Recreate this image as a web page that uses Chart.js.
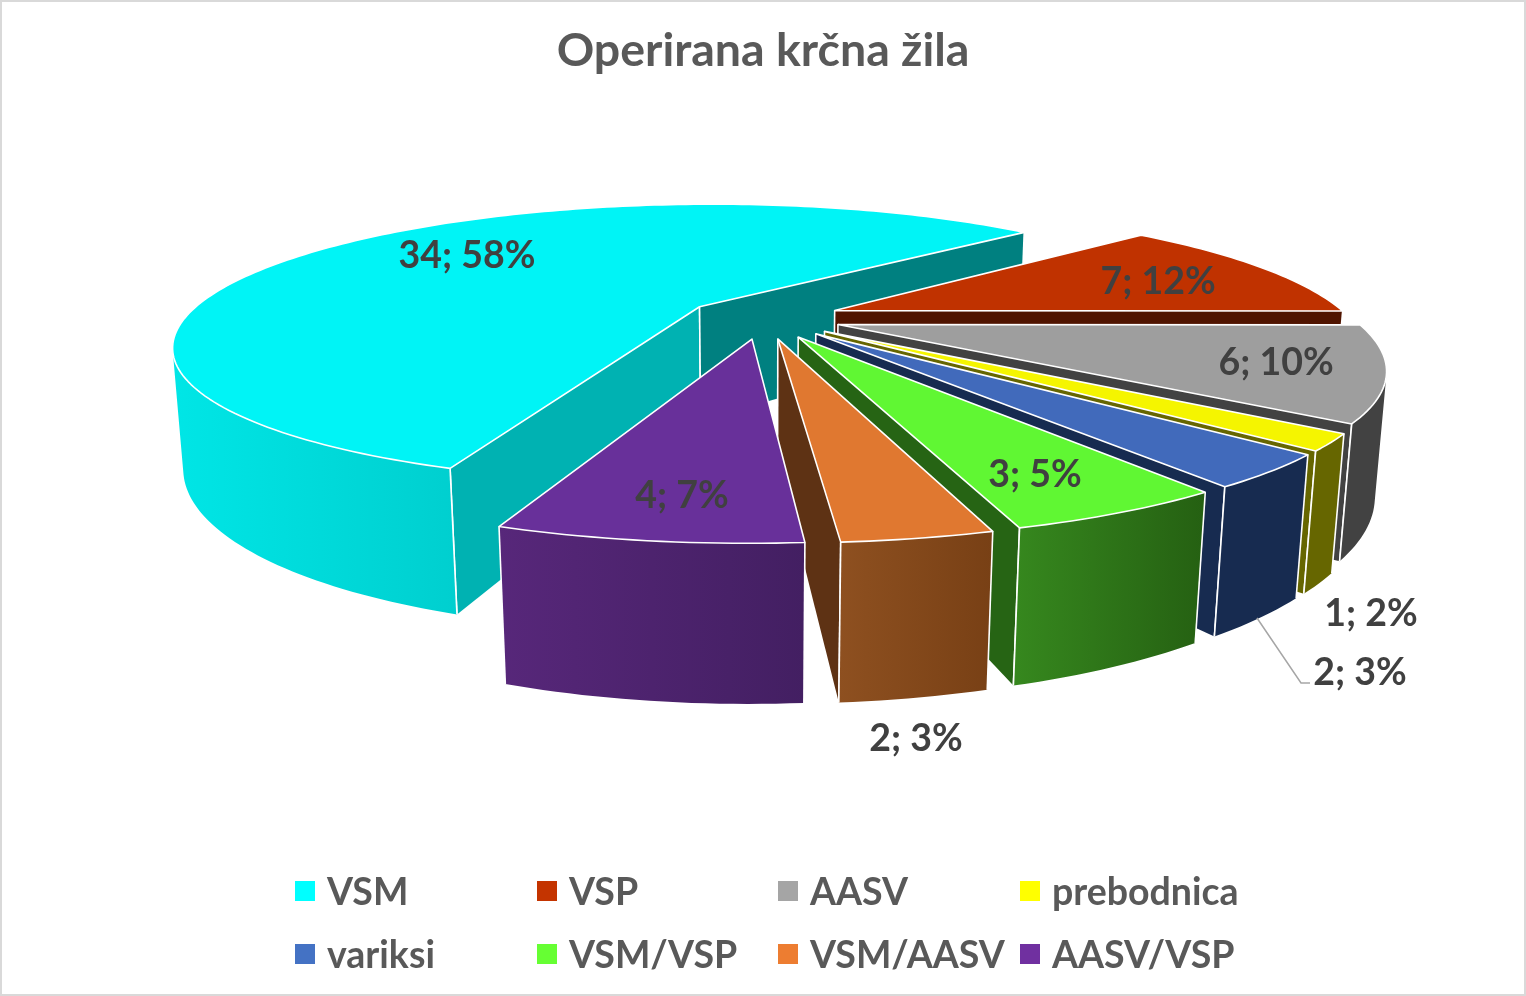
<!DOCTYPE html>
<html>
<head>
<meta charset="utf-8">
<title>Operirana krčna žila</title>
<script src="https://cdn.jsdelivr.net/npm/chart.js@4"></script>
<style>
	html, body { margin: 0; padding: 0; background: #fff; }
	#wrap { width: 1526px; height: 996px; }
	canvas { display: block; outline: 2px solid #d9d9d9; outline-offset: -2px; }
</style>
</head>
<body>
<div id="wrap"><canvas id="pieChart" width="1526" height="996"></canvas></div>
<script>
const categories = ['VSM', 'VSP', 'AASV', 'prebodnica', 'variksi', 'VSM/VSP', 'VSM/AASV', 'AASV/VSP'];
const patients = [34, 7, 6, 1, 2, 3, 2, 4];

const legendColors = ['#00FFFF', '#C43400', '#A5A5A5', '#FFFF00', '#4472C4', '#66FF33', '#ED7D31', '#7030A0'];
const topColors = ['#00F4F6', '#C03200', '#9E9E9E', '#F5F500', '#416ABB', '#60F733', '#E07830', '#68309A'];
const endWallColors = ['#008080', '#501400', '#424242', '#666600', '#172B50', '#266414', '#5E3214', '#431F62'];
const startWallColors = ['#00B2B2', '#501400', '#424242', '#666600', '#172B50', '#266414', '#5E3214', '#431F62'];
const outerFrom = ['#00E6E6', '#7A2000', '#424242', '#666600', '#172B50', '#36881E', '#8E5020', '#57277A'];
const outerTo = ['#00CFCF', '#7A2000', '#424242', '#666600', '#172B50', '#256012', '#784015', '#431F62'];

// where each "n; p%" text sits (centre of text)
const labelAnchors = [[467, 256], [1158, 282], [1276, 363], [1371, 614], [1360, 673], [1035, 475], [916, 739], [682, 496]];

const legendCols = [295, 537, 778, 1020];
const legendRows = [891, 954];

// fake 3d camera
const tilt = Math.asin(0.263);
const camDist = 1850;
const pieDepth = 122;

function project(cx, cy, X, Y, Z) {
	const up = Y * Math.sin(tilt) + Z * Math.cos(tilt);
	const toward = -Y * Math.cos(tilt) + Z * Math.sin(tilt);
	const f = camDist / (camDist - toward);
	return { x: cx + X * f, y: cy - up * f };
}

// vertical wall at ground point X,Y with normal (nx,ny): can the camera see it?
function facesCamera(X, Y, nx, ny) {
	return (-X) * nx + (-camDist * Math.cos(tilt) - Y) * ny > 0;
}

function tracePoly(ctx, pts) {
	ctx.beginPath();
	pts.forEach((p, i) => i ? ctx.lineTo(p.x, p.y) : ctx.moveTo(p.x, p.y));
	ctx.closePath();
}

function edge(ctx, a, b) {
	ctx.beginPath();
	ctx.moveTo(a.x, a.y);
	ctx.lineTo(b.x, b.y);
	ctx.stroke();
}

function drawSlice(ctx, arc, i) {
	const { x: cx, y: cy, startAngle, endAngle, outerRadius: r } = arc;
	const mid = (startAngle + endAngle) / 2;
	const off = arc.options.offset;
	const ax = Math.cos(mid) * off;
	const ay = -Math.sin(mid) * off;

	const steps = Math.max(2, Math.ceil((endAngle - startAngle) / 0.02));
	const rim = [];
	let minX = Infinity, maxX = -Infinity;
	for (let s = 0; s <= steps; s++) {
		const a = startAngle + (endAngle - startAngle) * s / steps;
		const X = ax + Math.cos(a) * r;
		const Y = ay - Math.sin(a) * r;
		const top = project(cx, cy, X, Y, 0);
		const bot = project(cx, cy, X, Y, -pieDepth);
		const visible = facesCamera(X, Y, Math.cos(a), -Math.sin(a));
		rim.push({ top, bot, visible });
		if (visible) {
			minX = Math.min(minX, top.x, bot.x);
			maxX = Math.max(maxX, top.x, bot.x);
		}
	}
	const apexTop = project(cx, cy, ax, ay, 0);
	const apexBot = project(cx, cy, ax, ay, -pieDepth);
	const first = rim[0], last = rim[steps];

	ctx.lineJoin = 'round';
	ctx.strokeStyle = '#fff';
	ctx.lineWidth = 1.6;

	// radial walls, only the ones turned to the camera
	const walls = [
		{ rimPt: first, angle: startAngle - Math.PI / 2, color: startWallColors[i] },
		{ rimPt: last, angle: endAngle + Math.PI / 2, color: endWallColors[i] }
	];
	walls.forEach(w => {
		if (!facesCamera(ax, ay, Math.cos(w.angle), -Math.sin(w.angle))) return;
		ctx.fillStyle = w.color;
		tracePoly(ctx, [apexTop, w.rimPt.top, w.rimPt.bot, apexBot]);
		ctx.fill();
		edge(ctx, apexTop, apexBot);
		edge(ctx, w.rimPt.top, w.rimPt.bot);
	});

	// outer wall as small quads in one path, keeps the curve's silhouette filled
	if (minX < maxX) {
		const grad = ctx.createLinearGradient(minX, 0, maxX, 0);
		grad.addColorStop(0, outerFrom[i]);
		grad.addColorStop(1, outerTo[i]);
		ctx.fillStyle = grad;
		ctx.beginPath();
		for (let s = 0; s < steps; s++) {
			if (!rim[s].visible || !rim[s + 1].visible) continue;
			ctx.moveTo(rim[s].top.x, rim[s].top.y);
			ctx.lineTo(rim[s + 1].top.x, rim[s + 1].top.y);
			ctx.lineTo(rim[s + 1].bot.x, rim[s + 1].bot.y);
			ctx.lineTo(rim[s].bot.x, rim[s].bot.y);
			ctx.closePath();
		}
		ctx.fill();
		if (first.visible) edge(ctx, first.top, first.bot);
		if (last.visible) edge(ctx, last.top, last.bot);
	}

	ctx.fillStyle = topColors[i];
	tracePoly(ctx, [apexTop].concat(rim.map(p => p.top)));
	ctx.fill();
	ctx.stroke();
}

const pie3dPlugin = {
	id: 'pie3dPlugin',
	beforeDatasetsDraw(chart) {
		const { ctx } = chart;
		const arcs = chart.getDatasetMeta(0).data;
		const depthOf = a => -Math.sin((a.startAngle + a.endAngle) / 2);
		const order = arcs.map((a, i) => i).sort((p, q) => depthOf(arcs[q]) - depthOf(arcs[p]));
		ctx.save();
		order.forEach(i => drawSlice(ctx, arcs[i], i));
		ctx.restore();
		return false;
	},
	afterDraw(chart) {
		const { ctx } = chart;
		const total = patients.reduce((acc, val) => acc + val, 0);
		ctx.save();

		// leader line of the variksi label
		ctx.strokeStyle = '#A6A6A6';
		ctx.lineWidth = 1.5;
		ctx.beginPath();
		ctx.moveTo(1257, 618);
		ctx.lineTo(1301, 683);
		ctx.lineTo(1310, 683);
		ctx.stroke();

		ctx.textBaseline = 'middle';
		ctx.textAlign = 'center';
		ctx.font = 'bold 37.5px Lato';
		ctx.fillStyle = '#404040';
		patients.forEach((v, i) => {
			const pct = Math.round(v / total * 100);
			ctx.fillText(`${v}; ${pct}%`, labelAnchors[i][0], labelAnchors[i][1]);
		});

		ctx.textAlign = 'left';
		ctx.font = 'bold 37.5px Lato';
		categories.forEach((name, i) => {
			const x = legendCols[i % 4];
			const y = legendRows[Math.floor(i / 4)];
			ctx.fillStyle = legendColors[i];
			ctx.fillRect(x, y - 10, 20, 20);
			ctx.fillStyle = '#595959';
			ctx.fillText(name, x + 32, y + 1.5);
		});
		ctx.restore();
	}
};

function pieChartConfig() {
	const canvas = document.getElementById('pieChart');
	if (!canvas) return;
	new Chart(canvas.getContext('2d'), {
		type: 'pie',
		data: {
			labels: categories,
			datasets: [{
				data: patients,
				backgroundColor: legendColors,
				borderWidth: 0,
				offset: 78
			}]
		},
		options: {
			responsive: false,
			animation: false,
			rotation: 200,
			radius: 515,
			layout: {
				padding: { bottom: 440 }
			},
			plugins: {
				legend: { display: false },
				tooltip: { enabled: false },
				title: {
					display: true,
					text: 'Operirana krčna žila',
					color: '#595959',
					font: { size: 46.5, weight: 'bold', family: 'Lato' },
					padding: { top: 23, bottom: 1 }
				}
			}
		},
		plugins: [pie3dPlugin]
	});
}
document.addEventListener('DOMContentLoaded', pieChartConfig);
</script>
</body>
</html>
